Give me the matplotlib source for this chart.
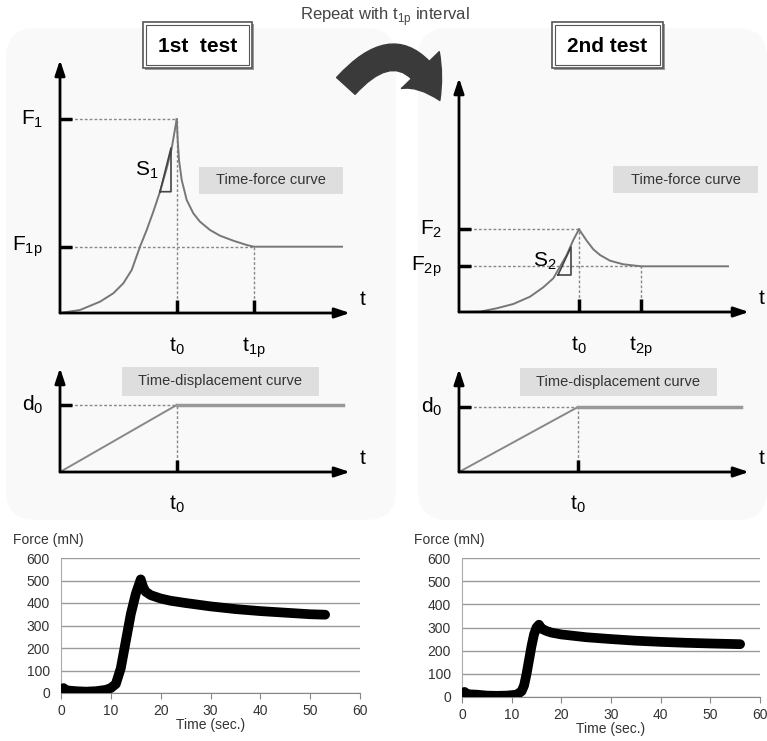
import numpy as np
import matplotlib.pyplot as plt
from matplotlib.patches import FancyBboxPatch, Rectangle, FancyArrowPatch

plt.rcParams['font.family'] = ['Liberation Sans', 'DejaVu Sans']

# ---- schematic curves (units: 10 px) ----
# 1st test time-force
rise1_t = [0, 2.0, 4.0, 5.33, 6.33, 7.17, 8.0, 8.67, 9.33, 10.0, 10.67, 11.17, 11.67]
rise1_f = [0, 0.3, 1.13, 1.97, 2.97, 4.3, 6.63, 8.3, 10.13, 12.13, 14.47, 16.47, 19.37]
decay1_t = [11.67, 11.77, 11.9, 12.17, 12.67, 13.33, 14.0, 15.0, 16.0, 17.33, 18.67, 19.4, 28.2]
decay1_f = [19.37, 17.3, 15.3, 13.3, 11.3, 9.97, 9.13, 8.3, 7.73, 7.23, 6.8, 6.63, 6.63]
t0_1, t1p, F1, F1p = 11.67, 19.4, 19.37, 6.63
# 2nd test time-force
rise2_t = [0, 2.1, 3.77, 5.43, 7.1, 8.43, 9.43, 10.1, 10.77, 11.43, 12.0]
rise2_f = [0, 0.03, 0.37, 0.8, 1.53, 2.47, 3.37, 4.53, 5.7, 7.2, 8.27]
decay2_t = [12.0, 12.27, 12.77, 13.43, 14.1, 15.1, 16.43, 18.2, 26.9]
decay2_f = [8.27, 7.87, 7.13, 6.27, 5.7, 5.13, 4.77, 4.57, 4.57]
t0_2, t2p, F2, F2p = 12.0, 18.2, 8.27, 4.57
# time-displacement
d0_1, d_end1 = 6.7, 28.3
d0_2, d_end2 = 6.5, 28.2

# ---- measured force curves ----
time1 = [0, 0.5, 1, 3, 5, 7, 9, 10, 11, 12, 13, 14, 15, 16, 16.5, 17, 18, 20, 22, 25, 30, 35, 40, 45, 50, 53]
force1 = [5, 22, 12, 8, 6, 8, 14, 22, 40, 110, 230, 350, 440, 505, 470, 450, 435, 420, 410, 400, 385, 373, 364, 357, 350, 348]
time2 = [0, 0.5, 1, 3, 5, 7, 9, 11, 12, 12.5, 13, 13.5, 14, 14.5, 15, 15.5, 16, 17, 18, 20, 25, 30, 35, 40, 45, 50, 56]
force2 = [5, 22, 12, 10, 6, 5, 6, 10, 25, 50, 100, 160, 220, 270, 300, 312, 295, 285, 278, 270, 258, 250, 243, 238, 234, 231, 228]

W, H = 767, 741
fig = plt.figure(figsize=(W / 100, H / 100), dpi=100)
bg = fig.add_axes([0, 0, 1, 1])
bg.set_xlim(0, W)
bg.set_ylim(H, 0)
bg.axis('off')

# faint background panels
for x0, x1 in [(6, 396), (418, 767)]:
    bg.add_patch(FancyBboxPatch((x0, 28), x1 - x0, 492, boxstyle="round,pad=0,rounding_size=30",
                                fc='#f9f9f9', ec='none', zorder=0))

# title boxes
for (x0, x1, txt) in [(143, 252, '1st  test'), (552, 663, '2nd test')]:
    bg.add_patch(Rectangle((x0 + 2, 24), x1 - x0, 46, fc='#9a9a9a', ec='none', zorder=1))
    bg.add_patch(Rectangle((x0, 22), x1 - x0, 46, fc='white', ec='#555555', lw=1.2, zorder=2))
    bg.add_patch(Rectangle((x0 + 3, 25), x1 - x0 - 6, 40, fc='none', ec='#555555', lw=0.8, zorder=3))
    bg.text((x0 + x1) / 2, 46, txt, ha='center', va='center', fontsize=15, fontweight='bold', zorder=4)

# repeat text and arrow
bg.text(385, 17, 'Repeat with t$_{\\mathregular{1p}}$ interval', ha='center', va='center',
        fontsize=12, color='#444444')
arr = FancyArrowPatch((344, 88), (441, 103), connectionstyle="arc3,rad=-0.78",
                      arrowstyle="simple,tail_width=1.8,head_width=3.8,head_length=2.6",
                      mutation_scale=10, fc='#3a3a3a', ec='#3a3a3a', zorder=3)
bg.add_patch(arr)


def px_axes(x0, x1, yb, yt):
    ax = fig.add_axes([x0 / W, 1 - yb / H, (x1 - x0) / W, (yb - yt) / H])
    ax.set_xlim(0, (x1 - x0) / 10)
    ax.set_ylim(0, (yb - yt) / 10)
    ax.axis('off')
    ax.patch.set_alpha(0)
    return ax


def draw_axes_arrows(ax):
    xm, ym = ax.get_xlim()[1], ax.get_ylim()[1]
    for xy in [(xm, 0), (0, ym)]:
        ax.annotate('', xy=xy, xytext=(0, 0),
                    arrowprops=dict(arrowstyle='-|>,head_width=0.3,head_length=0.9', lw=2, color='black',
                                    shrinkA=0, shrinkB=0), annotation_clip=False)
    ax.text(xm + 1.0, 0.4, 't', fontsize=15, ha='left', va='bottom')


def label_box(x0, x1, y0, y1, txt):
    bg.add_patch(Rectangle((x0, y0), x1 - x0, y1 - y0, fc='#dedede', ec='none', zorder=1))
    bg.text((x0 + x1) / 2, (y0 + y1) / 2, txt, ha='center', va='center', fontsize=10.5,
            color='#333333', zorder=2)


dash = dict(color='#888888', lw=1, ls=(0, (2, 1.5)))
tick = dict(color='black', lw=2.5, solid_capstyle='butt')


def force_panel(ax, rt, rf, dt, df, t0, tp, Fp, Fpk, names, tri):
    draw_axes_arrows(ax)
    ax.plot([0, t0], [Fpk, Fpk], **dash)
    ax.plot([t0, t0], [0, Fpk], **dash)
    ax.plot([0, tp], [Fp, Fp], **dash)
    ax.plot([tp, tp], [0, Fp], **dash)
    ax.plot(rt, rf, color='#777777', lw=1.4)
    ax.plot(dt, df, color='#777777', lw=1.4)
    for y in (Fpk, Fp):
        ax.plot([-1.3, 1.2], [y, y], **tick)
    for x in (t0, tp):
        ax.plot([x, x], [-0.9, 1.3], **tick)
    fs = 15
    ax.text(-1.7, Fpk, names[0], fontsize=fs, ha='right', va='center')
    ax.text(-1.7, Fp, names[1], fontsize=fs, ha='right', va='center')
    ax.text(t0, -2.2, names[2], fontsize=fs, ha='center', va='top')
    ax.text(tp, -2.2, names[3], fontsize=fs, ha='center', va='top')
    bx, by, tx, ty, lab = tri
    ax.plot([bx, tx, tx, bx], [by, by, ty, by], color='#444444', lw=1.2)
    ax.text(bx - 0.1, (by + ty) / 2, lab, fontsize=fs, ha='right', va='center')


def disp_panel(ax, t0, d0, tend):
    draw_axes_arrows(ax)
    ax.plot([0, t0], [d0, d0], **dash)
    ax.plot([t0, t0], [0, d0], **dash)
    ax.plot([0, t0], [0, d0], color='#888888', lw=1.4)
    ax.plot([t0, tend], [d0, d0], color='#999999', lw=2.5)
    ax.plot([-1.3, 1.2], [d0, d0], **tick)
    ax.plot([t0, t0], [-1.0, 1.2], **tick)
    ax.text(-1.7, d0, 'd$_{\\mathregular{0}}$', fontsize=15, ha='right', va='center')
    ax.text(t0, -2.1, 't$_{\\mathregular{0}}$', fontsize=15, ha='center', va='top')


ax1 = px_axes(60, 350, 313, 60)
force_panel(ax1, rise1_t, rise1_f, decay1_t, decay1_f, t0_1, t1p, F1p, F1,
            ['F$_{\\mathregular{1}}$', 'F$_{\\mathregular{1p}}$', 't$_{\\mathregular{0}}$', 't$_{\\mathregular{1p}}$'],
            (10.0, 12.13, 11.1, 16.5, 'S$_{\\mathregular{1}}$'))
label_box(199, 343, 167, 194, 'Time-force curve')

ax2 = px_axes(459, 749, 312, 78)
force_panel(ax2, rise2_t, rise2_f, decay2_t, decay2_f, t0_2, t2p, F2p, F2,
            ['F$_{\\mathregular{2}}$', 'F$_{\\mathregular{2p}}$', 't$_{\\mathregular{0}}$', 't$_{\\mathregular{2p}}$'],
            (9.9, 3.7, 11.2, 6.5, 'S$_{\\mathregular{2}}$'))
label_box(613, 758, 166, 193, 'Time-force curve')

ax3 = px_axes(60, 350, 472, 368)
disp_panel(ax3, t0_1, d0_1, d_end1)
label_box(122, 319, 367, 396, 'Time-displacement curve')

ax4 = px_axes(459, 749, 472, 369)
disp_panel(ax4, t0_2 - 0.1, d0_2, d_end2)
label_box(520, 717, 368, 396, 'Time-displacement curve')


def force_chart(x0, x1, y0, y1, t, f):
    ax = fig.add_axes([x0 / W, 1 - y0 / H, (x1 - x0) / W, (y0 - y1) / H])
    ax.patch.set_alpha(0)
    ax.plot(t, f, color='black', lw=7, solid_capstyle='round', solid_joinstyle='round', zorder=3)
    ax.set_xlim(0, 60)
    ax.set_ylim(0, 600)
    ax.set_xticks(range(0, 61, 10))
    ax.set_yticks(range(0, 601, 100))
    ax.grid(axis='y', color='#9a9a9a', lw=1)
    for s in ('top', 'right'):
        ax.spines[s].set_visible(False)
    ax.spines['left'].set_color('#aaaaaa')
    ax.spines['bottom'].set_color('#888888')
    ax.tick_params(axis='y', length=0, labelsize=10, labelcolor='#333333', pad=8)
    ax.tick_params(axis='x', length=4, color='#888888', labelsize=10, labelcolor='#333333', pad=4)
    ax.set_xlabel('Time (sec.)', fontsize=10, color='#333333', labelpad=0)
    ax.text(-0.16, 1.13, 'Force (mN)', transform=ax.transAxes, fontsize=10, color='#333333',
            ha='left', va='center')
    return ax


force_chart(61, 360, 693, 558, time1, force1)
force_chart(462, 760, 697, 558, time2, force2)

fig.savefig('out.png', dpi=100)
